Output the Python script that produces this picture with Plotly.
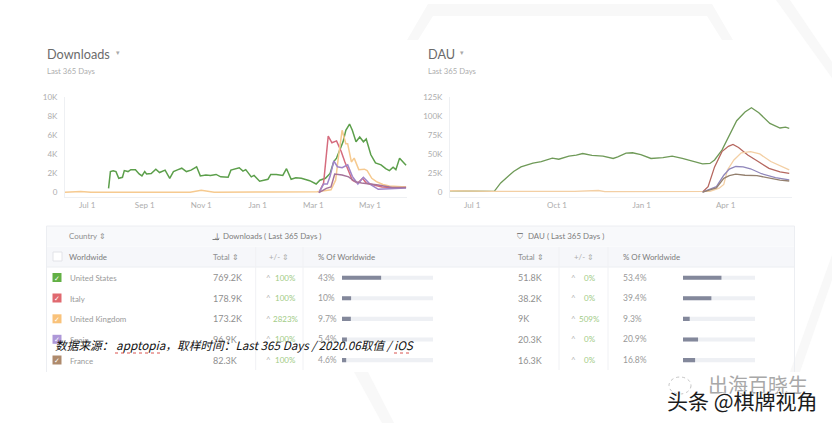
"""
Apptopia downloads and DAU by country, with the country table underneath.
"""

import plotly.graph_objects as go

W, H = 832, 423

countries = ["United States", "Italy", "United Kingdom", "Spain", "France"]
dl_colors = ["#5c9f4b", "#d56c7e", "#f6ca90", "#a084c8", "#a5739a"]
dau_colors = ["#6f9a58", "#b5675f", "#f3cfa4", "#8f86ba", "#94806f"]
box_colors = ["#62b044", "#e0696f", "#f9c27a", "#ae98d8", "#ae8a6c"]

# Downloads chart
dl_us_dates = [
    "2019-07-24", "2019-07-26", "2019-07-29", "2019-08-01", "2019-08-04", "2019-08-08", "2019-08-10",
    "2019-08-14", "2019-08-17", "2019-08-22", "2019-08-26", "2019-08-29", "2019-09-01", "2019-09-03",
    "2019-09-08", "2019-09-13", "2019-09-17", "2019-09-23", "2019-09-28", "2019-10-02", "2019-10-07",
    "2019-10-11", "2019-10-16", "2019-10-21", "2019-10-27", "2019-10-31", "2019-11-06", "2019-11-11",
    "2019-11-17", "2019-11-22", "2019-11-30", "2019-12-03", "2019-12-12", "2019-12-16", "2019-12-19",
    "2019-12-25", "2019-12-28", "2020-01-03", "2020-01-12", "2020-01-15", "2020-01-21", "2020-01-28",
    "2020-02-01", "2020-02-06", "2020-02-11", "2020-02-17", "2020-02-26", "2020-03-04", "2020-03-08",
    "2020-03-14", "2020-03-19", "2020-03-23", "2020-03-26", "2020-04-02", "2020-04-05", "2020-04-09",
    "2020-04-12", "2020-04-16", "2020-04-20", "2020-04-24", "2020-04-27", "2020-05-02", "2020-05-07",
    "2020-05-13", "2020-05-18", "2020-05-22", "2020-05-26", "2020-05-29", "2020-06-02", "2020-06-09",
]
dl_us = [
    450, 2200, 2290, 2190, 1500, 1600, 2300, 2200, 2400, 2400, 1950, 1750, 2200, 1950, 2000, 2450, 2100,
    2350, 1500, 2200, 2400, 2550, 2200, 2350, 2700, 1750, 1850, 1800, 1900, 1650, 1600, 2350, 2600, 2250,
    2400, 1650, 1800, 1200, 1400, 1900, 1900, 1800, 2500, 1400, 1550, 1500, 1250, 900, 1300, 1500, 2000,
    3250, 3600, 5300, 6500, 7150, 6500, 5300, 5800, 5300, 5600, 3950, 3100, 2900, 2500, 2300, 2650, 2400,
    3600, 2850,
]
dl_it_dates = [
    "2020-03-07", "2020-03-12", "2020-03-17", "2020-03-21", "2020-03-26", "2020-03-31", "2020-04-04",
    "2020-04-09", "2020-04-12", "2020-04-18", "2020-04-23", "2020-04-27", "2020-05-07", "2020-05-14",
    "2020-05-25", "2020-06-09",
]
dl_it = [0, 1000, 5900, 5200, 5400, 4300, 3200, 2000, 1300, 1000, 1500, 1000, 800, 600, 550, 600]
dl_uk_dates = [
    "2019-06-07", "2019-06-24", "2019-07-05", "2019-09-15", "2019-10-20", "2019-11-01", "2019-11-15",
    "2020-01-15", "2020-03-05", "2020-03-20", "2020-03-25", "2020-03-28", "2020-04-01", "2020-04-05",
    "2020-04-07", "2020-04-11", "2020-04-14", "2020-04-19", "2020-04-25", "2020-04-28", "2020-05-03",
    "2020-05-08", "2020-05-15", "2020-05-22", "2020-06-09",
]
dl_uk = [
    50, 120, 40, 30, 50, 250, 40, 70, 100, 300, 1300, 3700, 6500, 5100, 5100, 3200, 3600, 2400, 2450, 2300,
    1500, 1150, 850, 700, 600,
]
dl_es_dates = [
    "2020-03-07", "2020-03-12", "2020-03-16", "2020-03-19", "2020-03-23", "2020-03-27", "2020-04-01",
    "2020-04-07", "2020-04-12", "2020-04-18", "2020-04-24", "2020-05-01", "2020-05-10", "2020-05-20",
    "2020-06-09",
]
dl_es = [0, 900, 900, 1700, 3300, 2700, 2600, 2900, 1700, 900, 1600, 900, 350, 400, 500]
dl_fr_dates = [
    "2020-03-07", "2020-03-15", "2020-03-20", "2020-03-24", "2020-04-01", "2020-04-08", "2020-04-15",
    "2020-04-22", "2020-05-01", "2020-05-10", "2020-05-25", "2020-06-09",
]
dl_fr = [0, 450, 600, 1950, 1850, 1650, 1150, 1000, 900, 800, 550, 550]

# DAU chart
dau_us_dates = [
    "2019-06-07", "2019-07-25", "2019-08-01", "2019-08-06", "2019-08-15", "2019-08-23", "2019-09-05",
    "2019-09-14", "2019-09-26", "2019-10-03", "2019-10-14", "2019-10-22", "2019-10-29", "2019-11-08",
    "2019-11-20", "2019-12-01", "2019-12-06", "2019-12-15", "2019-12-22", "2019-12-31", "2020-01-11",
    "2020-01-24", "2020-02-03", "2020-02-14", "2020-02-25", "2020-03-07", "2020-03-15", "2020-03-20",
    "2020-03-28", "2020-04-04", "2020-04-13", "2020-04-22", "2020-04-29", "2020-05-07", "2020-05-19",
    "2020-05-30", "2020-06-05", "2020-06-09",
]
dau_us = [
    1500, 1000, 12000, 17000, 27000, 33000, 38000, 40000, 44500, 43000, 47000, 48500, 50500, 48000, 47000,
    44000, 46000, 51000, 51500, 49000, 44000, 45000, 47000, 44000, 40500, 37000, 37500, 42000, 55000, 72500,
    93500, 105000, 110500, 104000, 90000, 84000, 85000, 83500,
]
dau_it_dates = [
    "2020-03-07", "2020-03-13", "2020-03-20", "2020-03-28", "2020-04-04", "2020-04-09", "2020-04-15",
    "2020-04-25", "2020-05-05", "2020-05-18", "2020-05-30", "2020-06-09",
]
dau_it = [0, 7000, 33000, 53000, 60000, 62500, 58500, 48500, 41000, 31000, 26500, 24500]
dau_uk_dates = [
    "2019-06-07", "2019-07-25", "2019-10-20", "2019-11-05", "2019-11-15", "2019-11-22", "2020-03-15",
    "2020-03-25", "2020-03-30", "2020-04-03", "2020-04-10", "2020-04-18", "2020-04-28", "2020-05-08",
    "2020-05-20", "2020-06-09",
]
dau_uk = [
    1700, 800, 800, 2000, 2000, 500, 1000, 5000, 10000, 29000, 42000, 51500, 53000, 50000, 40000, 29000,
]
dau_es_dates = [
    "2020-03-07", "2020-03-15", "2020-03-22", "2020-03-30", "2020-04-05", "2020-04-12", "2020-04-20",
    "2020-04-28", "2020-05-10", "2020-05-25", "2020-06-09",
]
dau_es = [0, 3500, 7000, 22000, 30000, 33500, 33000, 30500, 24000, 19000, 16000]
dau_fr_dates = [
    "2020-03-07", "2020-03-15", "2020-03-22", "2020-03-30", "2020-04-05", "2020-04-12", "2020-04-22",
    "2020-05-05", "2020-05-15", "2020-05-30", "2020-06-09",
]
dau_fr = [0, 2500, 5500, 18000, 21500, 23500, 22000, 21500, 19000, 15500, 14500]

dl_ticks = ["2019-07-01", "2019-09-01", "2019-11-01", "2020-01-01", "2020-03-01", "2020-05-01"]
dl_tick_labels = ["Jul 1", "Sep 1", "Nov 1", "Jan 1", "Mar 1", "May 1"]
dl_y_ticks = [0, 2000, 4000, 6000, 8000, 10000]
dl_y_labels = ["0", "2K", "4K", "6K", "8K", "10K"]
dau_ticks = ["2019-07-01", "2019-10-01", "2020-01-01", "2020-04-01"]
dau_tick_labels = ["Jul 1", "Oct 1", "Jan 1", "Apr 1"]
dau_y_ticks = [0, 25000, 50000, 75000, 100000, 125000]
dau_y_labels = ["0", "25K", "50K", "75K", "100K", "125K"]

# Table
dl_total = ["769.2K", "178.9K", "173.2K", "96.9K", "82.3K"]
dl_change = ["100%", "100%", "2823%", "100%", "100%"]
dl_share_label = ["43%", "10%", "9.7%", "5.4%", "4.6%"]
dl_share = [43, 10, 9.7, 5.4, 4.6]
dau_total = ["51.8K", "38.2K", "9K", "20.3K", "16.3K"]
dau_change = ["0%", "0%", "509%", "0%", "0%"]
dau_share_label = ["53.4%", "39.4%", "9.3%", "20.9%", "16.8%"]
dau_share = [53.4, 39.4, 9.3, 20.9, 16.8]
track = [100, 100, 100, 100, 100]

ROW_Y = [277.5, 298, 318.8, 339.3, 360]
GREY = "#8f8f8f"
LIGHT = "#adadad"
FONT = "Lato, 'Open Sans', sans-serif"
CJK = "'Noto Sans CJK SC', sans-serif"


def fx(x):
    return x / W


def fy(y):
    return 1 - y / H


fig = go.Figure()


def add_lines(series, line_colors, xaxis, yaxis, width):
    for (dates, values), color, name in zip(series, line_colors, countries):
        fig.add_trace(go.Scatter(x=dates, y=values, mode="lines", name=name, xaxis=xaxis, yaxis=yaxis,
                                 line={"color": color, "width": width}))


add_lines([(dl_us_dates, dl_us), (dl_it_dates, dl_it), (dl_uk_dates, dl_uk),
           (dl_es_dates, dl_es), (dl_fr_dates, dl_fr)], dl_colors, "x", "y", 1.5)
add_lines([(dau_us_dates, dau_us), (dau_it_dates, dau_it), (dau_uk_dates, dau_uk),
           (dau_es_dates, dau_es), (dau_fr_dates, dau_fr)], dau_colors, "x2", "y2", 1.3)

# share bars in the table
for values, xaxis, yaxis in [(dl_share, "x3", "y3"), (dau_share, "x4", "y4")]:
    fig.add_trace(go.Bar(x=track, y=countries, orientation="h", xaxis=xaxis, yaxis=yaxis,
                         marker={"color": "#eef0f4", "line": {"width": 0}}, width=0.2))
    fig.add_trace(go.Bar(x=values, y=countries, orientation="h", xaxis=xaxis, yaxis=yaxis,
                         marker={"color": "#83889b", "line": {"width": 0}}, width=0.2))

annotations = []
shapes = []


def text(x, y, s, size=8, color=GREY, family=FONT, anchor="left", **kw):
    annotations.append(dict(xref="paper", yref="paper", x=fx(x), y=fy(y), text=s, showarrow=False,
                            xanchor=anchor, yanchor="middle", borderpad=0,
                            font=dict(size=size, color=color, family=family, **kw)))


def rect(x0, y0, x1, y1, fill=None, line=None, layer="below", width=1):
    shapes.append(dict(type="rect", xref="paper", yref="paper", x0=fx(x0), x1=fx(x1), y0=fy(y0), y1=fy(y1),
                       fillcolor=fill, layer=layer, line={"color": line, "width": width if line else 0}))


def poly(points, fill="#f8f8f8"):
    path = "M" + " L".join(f"{fx(x):.4f},{fy(y):.4f}" for x, y in points) + " Z"
    shapes.append(dict(type="path", xref="paper", yref="paper", path=path, fillcolor=fill, layer="below",
                       line={"width": 0}))


def vline(x, y0, y1, color="#f0f1f4"):
    shapes.append(dict(type="line", xref="paper", yref="paper", x0=fx(x), x1=fx(x), y0=fy(y0), y1=fy(y1),
                       layer="below", line={"color": color, "width": 1}))


def hline(x0, x1, y, color="#eceef2"):
    shapes.append(dict(type="line", xref="paper", yref="paper", x0=fx(x0), x1=fx(x1), y0=fy(y), y1=fy(y),
                       layer="below", line={"color": color, "width": 1}))


# faint hexagon watermark behind the page
poly([(428, 4), (712, 4), (733, 40), (722, 40), (707, 16), (433, 16), (418, 40), (407, 40)])
poly([(776, 0), (790, 0), (832, 62), (832, 78)])
poly([(832, 255), (832, 280), (800, 372), (790, 372)])
poly([(354, 372), (368, 372), (394, 423), (382, 423)])

# headings
text(46, 54, "Downloads", size=12.7, color="#6b6b6b")
text(115, 52, "▾", size=7, color="#aaaaaa")
text(46, 71, "Last 365 Days", size=7.7, color=LIGHT)
text(427, 54, "DAU", size=12.7, color="#6b6b6b")
text(459, 52, "▾", size=7, color="#aaaaaa")
text(427, 71, "Last 365 Days", size=7.7, color=LIGHT)

# table frame and header rows
rect(46.5, 226, 794.5, 246, fill="#f8f9fb")
rect(46.5, 246.5, 794.5, 267, fill="#f6f7fa")
hline(46.5, 794.5, 226)
hline(46.5, 794.5, 267)
vline(46.5, 226, 372, "#eceef2")
vline(794.5, 226, 372, "#eceef2")
for x in [255.7, 303, 559, 608]:
    vline(x, 247, 370)

text(68, 236, "Country ⇕", size=7.9)
text(213, 235.5, "↓", size=8, color="#7d7d7d")
hline(212.5, 219, 239.5, "#7d7d7d")
text(221.5, 236, "Downloads ( Last 365 Days )", size=7.9, color="#7d7d7d")
text(516, 236, "⛉", size=8, color="#7d7d7d")
text(527, 236, "DAU ( Last 365 Days )", size=7.9, color="#7d7d7d")
text(68, 257, "Worldwide", size=7.9, color="#7d7d7d")
text(212, 257, "Total ⇕", size=7.9)
text(268, 257, "+/- ⇕", size=7.9, color=LIGHT)
text(316.7, 257, "% Of Worldwide", size=7.9, color="#7d7d7d")
text(516.7, 257, "Total ⇕", size=7.9)
text(573, 257, "+/- ⇕", size=7.9, color=LIGHT)
text(621.7, 257, "% Of Worldwide", size=7.9, color="#7d7d7d")

# worldwide checkbox
rect(53, 252, 62, 261, fill="#ffffff", line="#e2e3e8")


def change_text(x_up, x_val, y, value):
    text(x_up, y, "^", size=8, color="#b5b5b5")
    text(x_val, y, value, size=8, color="#9fcb86")


for i, y in enumerate(ROW_Y):
    rect(52.5, y - 4.5, 61.5, y + 4.5, fill=box_colors[i])
    text(57, y, "✓", size=7, color="#ffffff", anchor="center")
    text(69.3, y + 0.5, countries[i], size=7.9, color="#9a9a9a")
    text(212.3, y, dl_total[i], size=9)
    change_text(265, 272 if i == 2 else 273.5, y, dl_change[i])
    text(316.7, y, dl_share_label[i], size=8.5, color="#9a9a9a")
    text(516.7, y, dau_total[i], size=9)
    change_text(570, 578 if i == 2 else 582.7, y, dau_change[i])
    text(621.7, y, dau_share_label[i], size=8.5, color="#9a9a9a")

# source line pasted over the table
text(54, 344.5, "<i>数据来源： apptopia，取样时间：Last 365 Days / 2020.06取值 / iOS</i>", size=11.7, color="#111111",
     family=CJK)
for x0, x1 in [(115, 163), (394, 412)]:
    shapes.append(dict(type="line", xref="paper", yref="paper", x0=fx(x0), x1=fx(x1), y0=fy(353), y1=fy(353),
                       layer="above", line={"color": "#d9534f", "width": 1, "dash": "dot"}))

# platform watermarks, bottom right
shapes.append(dict(type="circle", xref="paper", yref="paper", x0=fx(669), x1=fx(691), y0=fy(394), y1=fy(377),
                   layer="below", line={"color": "#c4c4c4", "width": 1, "dash": "dot"}))
text(707, 384, "出海百晓生", size=20, color="#a8a8a8", family=CJK)
text(666, 400, "头条 @棋牌视角", size=21, color="#1c1c1c", family=CJK,
     shadow="1px 1px 0 #ffffff, -1px -1px 0 #ffffff")

tick_font = {"size": 8, "color": LIGHT, "family": FONT}
date_axis = dict(type="date", showgrid=False, zeroline=False, showline=True, linecolor="#eef0f3", ticks="",
                 tickfont=tick_font, tickmode="array")
value_axis = dict(showgrid=False, zeroline=False, showline=True, linecolor="#eef0f3", ticks="outside",
                  ticklen=5, tickcolor="rgba(0,0,0,0)", tickfont=tick_font, tickmode="array")
hidden = dict(visible=False, showgrid=False, zeroline=False)

fig.update_layout(
    width=W,
    height=H,
    autosize=False,
    margin={"l": 0, "r": 0, "t": 0, "b": 0, "autoexpand": False},
    paper_bgcolor="#ffffff",
    plot_bgcolor="rgba(0,0,0,0)",
    showlegend=False,
    barmode="overlay",
    font={"family": FONT},
    annotations=annotations,
    shapes=shapes,
    xaxis=dict(date_axis, domain=[fx(65), fx(407)], range=["2019-06-07", "2020-06-10"], anchor="y",
               tickvals=dl_ticks, ticktext=dl_tick_labels),
    yaxis=dict(value_axis, domain=[fy(197), fy(96.7)], range=[-450, 10000], anchor="x",
               tickvals=dl_y_ticks, ticktext=dl_y_labels),
    xaxis2=dict(date_axis, domain=[fx(450), fx(792)], range=["2019-06-07", "2020-06-12"], anchor="y2",
                tickvals=dau_ticks, ticktext=dau_tick_labels),
    yaxis2=dict(value_axis, domain=[fy(197), fy(96.7)], range=[-6500, 125000], anchor="x2",
                tickvals=dau_y_ticks, ticktext=dau_y_labels),
    xaxis3=dict(hidden, domain=[fx(342), fx(433)], range=[0, 100], anchor="y3"),
    yaxis3=dict(hidden, domain=[fy(370.4), fy(267.4)], autorange="reversed", anchor="x3",
                categoryorder="array", categoryarray=countries),
    xaxis4=dict(hidden, domain=[fx(683), fx(755)], range=[0, 100], anchor="y4"),
    yaxis4=dict(hidden, domain=[fy(370.4), fy(267.4)], autorange="reversed", anchor="x4",
                categoryorder="array", categoryarray=countries),
)

fig.write_html("out.html", config={"displayModeBar": False}, post_script="document.body.style.margin='0';")
